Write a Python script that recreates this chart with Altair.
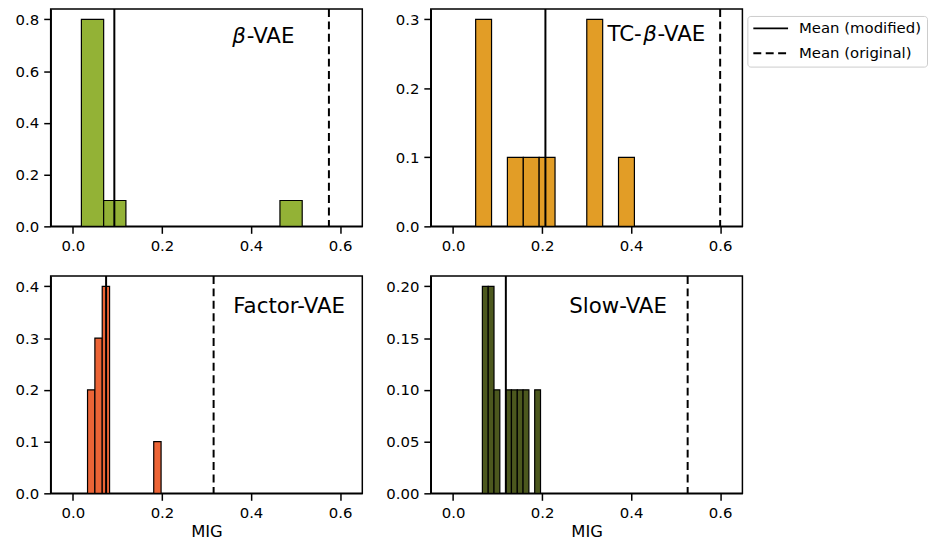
import altair as alt
import pandas as pd

# ---------------- data ----------------
legend_labels = ["Mean (modified)", "Mean (original)"]

# beta-VAE histogram (bin start, bin end, fraction)
beta_lo = [0.019, 0.069, 0.465]
beta_hi = [0.069, 0.119, 0.515]
beta_frac = [0.8, 0.1, 0.1]
beta_means = [0.093, 0.575]

# TC-beta-VAE
tc_lo = [0.0508, 0.1221, 0.1578, 0.1934, 0.3004, 0.3717]
tc_hi = [0.0865, 0.1578, 0.1934, 0.2291, 0.3361, 0.4074]
tc_frac = [0.3, 0.1, 0.1, 0.1, 0.3, 0.1]
tc_means = [0.2075, 0.600]

# Factor-VAE
factor_lo = [0.0328, 0.0493, 0.0658, 0.1815]
factor_hi = [0.0493, 0.0658, 0.0823, 0.1980]
factor_frac = [0.2, 0.3, 0.4, 0.1]
factor_means = [0.0745, 0.316]

# Slow-VAE
slow_lo = [0.0659, 0.0790, 0.0920, 0.1181, 0.1312, 0.1443, 0.1573, 0.1834]
slow_hi = [0.0790, 0.0920, 0.1051, 0.1312, 0.1443, 0.1573, 0.1704, 0.1965]
slow_frac = [0.2, 0.2, 0.1, 0.1, 0.1, 0.1, 0.1, 0.1]
slow_means = [0.1186, 0.527]

x_ticks = [0.0, 0.2, 0.4, 0.6]
x_domain = [-0.05, 0.65]

FONT = "DejaVu Sans"
PW, PH = 314, 219
TFS = 21.5


def panel(lo, hi, frac, means, color, ymax, yticks, yfmt, xtitle, title_parts):
    xs = alt.Scale(domain=x_domain, nice=False, zero=False)
    ys = alt.Scale(domain=[0, ymax], nice=False, zero=True)
    xaxis = alt.Axis(values=x_ticks, format=".1f", labelFlush=False)
    bars = alt.Chart(pd.DataFrame({"lo": lo, "hi": hi, "frac": frac})).mark_bar(
        color=color, stroke="black", strokeWidth=1.2, opacity=1
    ).encode(
        x=alt.X("lo:Q", scale=xs, axis=xaxis, title=xtitle),
        x2="hi:Q",
        y=alt.Y("frac:Q", scale=ys, title=None,
                axis=alt.Axis(values=yticks, format=yfmt, labelFlush=False)),
        y2=alt.datum(0),
    )
    rules = alt.Chart(pd.DataFrame({"m": means, "kind": legend_labels})).mark_rule(
        color="black", strokeWidth=2
    ).encode(
        x=alt.X("m:Q", scale=xs),
        strokeDash=alt.StrokeDash(
            "kind:N",
            scale=alt.Scale(domain=legend_labels, range=[[1, 0], [8, 4.5]]),
            legend=alt.Legend(title=None, orient="none", legendX=702, legendY=7,
                              symbolType="stroke", symbolSize=1225,
                              symbolStrokeColor="black", symbolStrokeWidth=2,
                              clipHeight=15,
                              labelFontSize=15, labelFont=FONT, labelColor="black",
                              labelOffset=10, rowPadding=9, padding=5,
                              strokeColor="#cccccc", cornerRadius=3,
                              fillColor="white"),
        ),
    )
    layers = [bars, rules]
    for text, px, py, italic in title_parts:
        layers.append(
            alt.Chart(pd.DataFrame({"t": [text]})).mark_text(
                align="left", baseline="alphabetic", fontSize=TFS, font=FONT,
                fontStyle="italic" if italic else "normal", color="black"
            ).encode(text="t:N", x=alt.value(px), y=alt.value(py))
        )
    return alt.layer(*layers).properties(width=PW, height=PH)


p1 = panel(beta_lo, beta_hi, beta_frac, beta_means, "#93b236", 0.84,
           [0, 0.2, 0.4, 0.6, 0.8], ".1f", None,
           [("β", 183, 34, True), ("-VAE", 197.5, 34, False)])
p2 = panel(tc_lo, tc_hi, tc_frac, tc_means, "#e29d26", 0.315,
           [0, 0.1, 0.2, 0.3], ".1f", None,
           [("TC-", 178, 32, False), ("β", 214, 32, True), ("-VAE", 228.5, 32, False)])
p3 = panel(factor_lo, factor_hi, factor_frac, factor_means, "#ec6436", 0.42,
           [0, 0.1, 0.2, 0.3, 0.4], ".1f", "MIG",
           [("Factor-VAE", 184, 37.5, False)])
p4 = panel(slow_lo, slow_hi, slow_frac, slow_means, "#4c581e", 0.21,
           [0, 0.05, 0.10, 0.15, 0.20], ".2f", "MIG",
           [("Slow-VAE", 139.5, 37, False)])

chart = alt.concat(
    p1, p2, p3, p4, columns=2, spacing={"row": 50, "column": 69}, bounds="flush"
).resolve_scale(
    x="independent", y="independent", strokeDash="shared"
).properties(
    padding={"left": 6, "top": -3, "right": 0, "bottom": -3}
).configure_view(
    stroke="black", strokeWidth=1.5
).configure_axis(
    domain=True, domainColor="black", domainWidth=1.5,
    ticks=True, tickColor="black", tickWidth=1.5, tickSize=7,
    grid=False, labelFont=FONT, labelFontSize=15, labelColor="black",
    titleFont=FONT, titleFontSize=16.5, titleFontWeight="normal", titleColor="black",
).configure_axisX(
    labelPadding=5, titlePadding=4
).configure_axisY(
    labelPadding=5
)

chart.save("out.html", embed_options={"renderer": "svg", "actions": False})
